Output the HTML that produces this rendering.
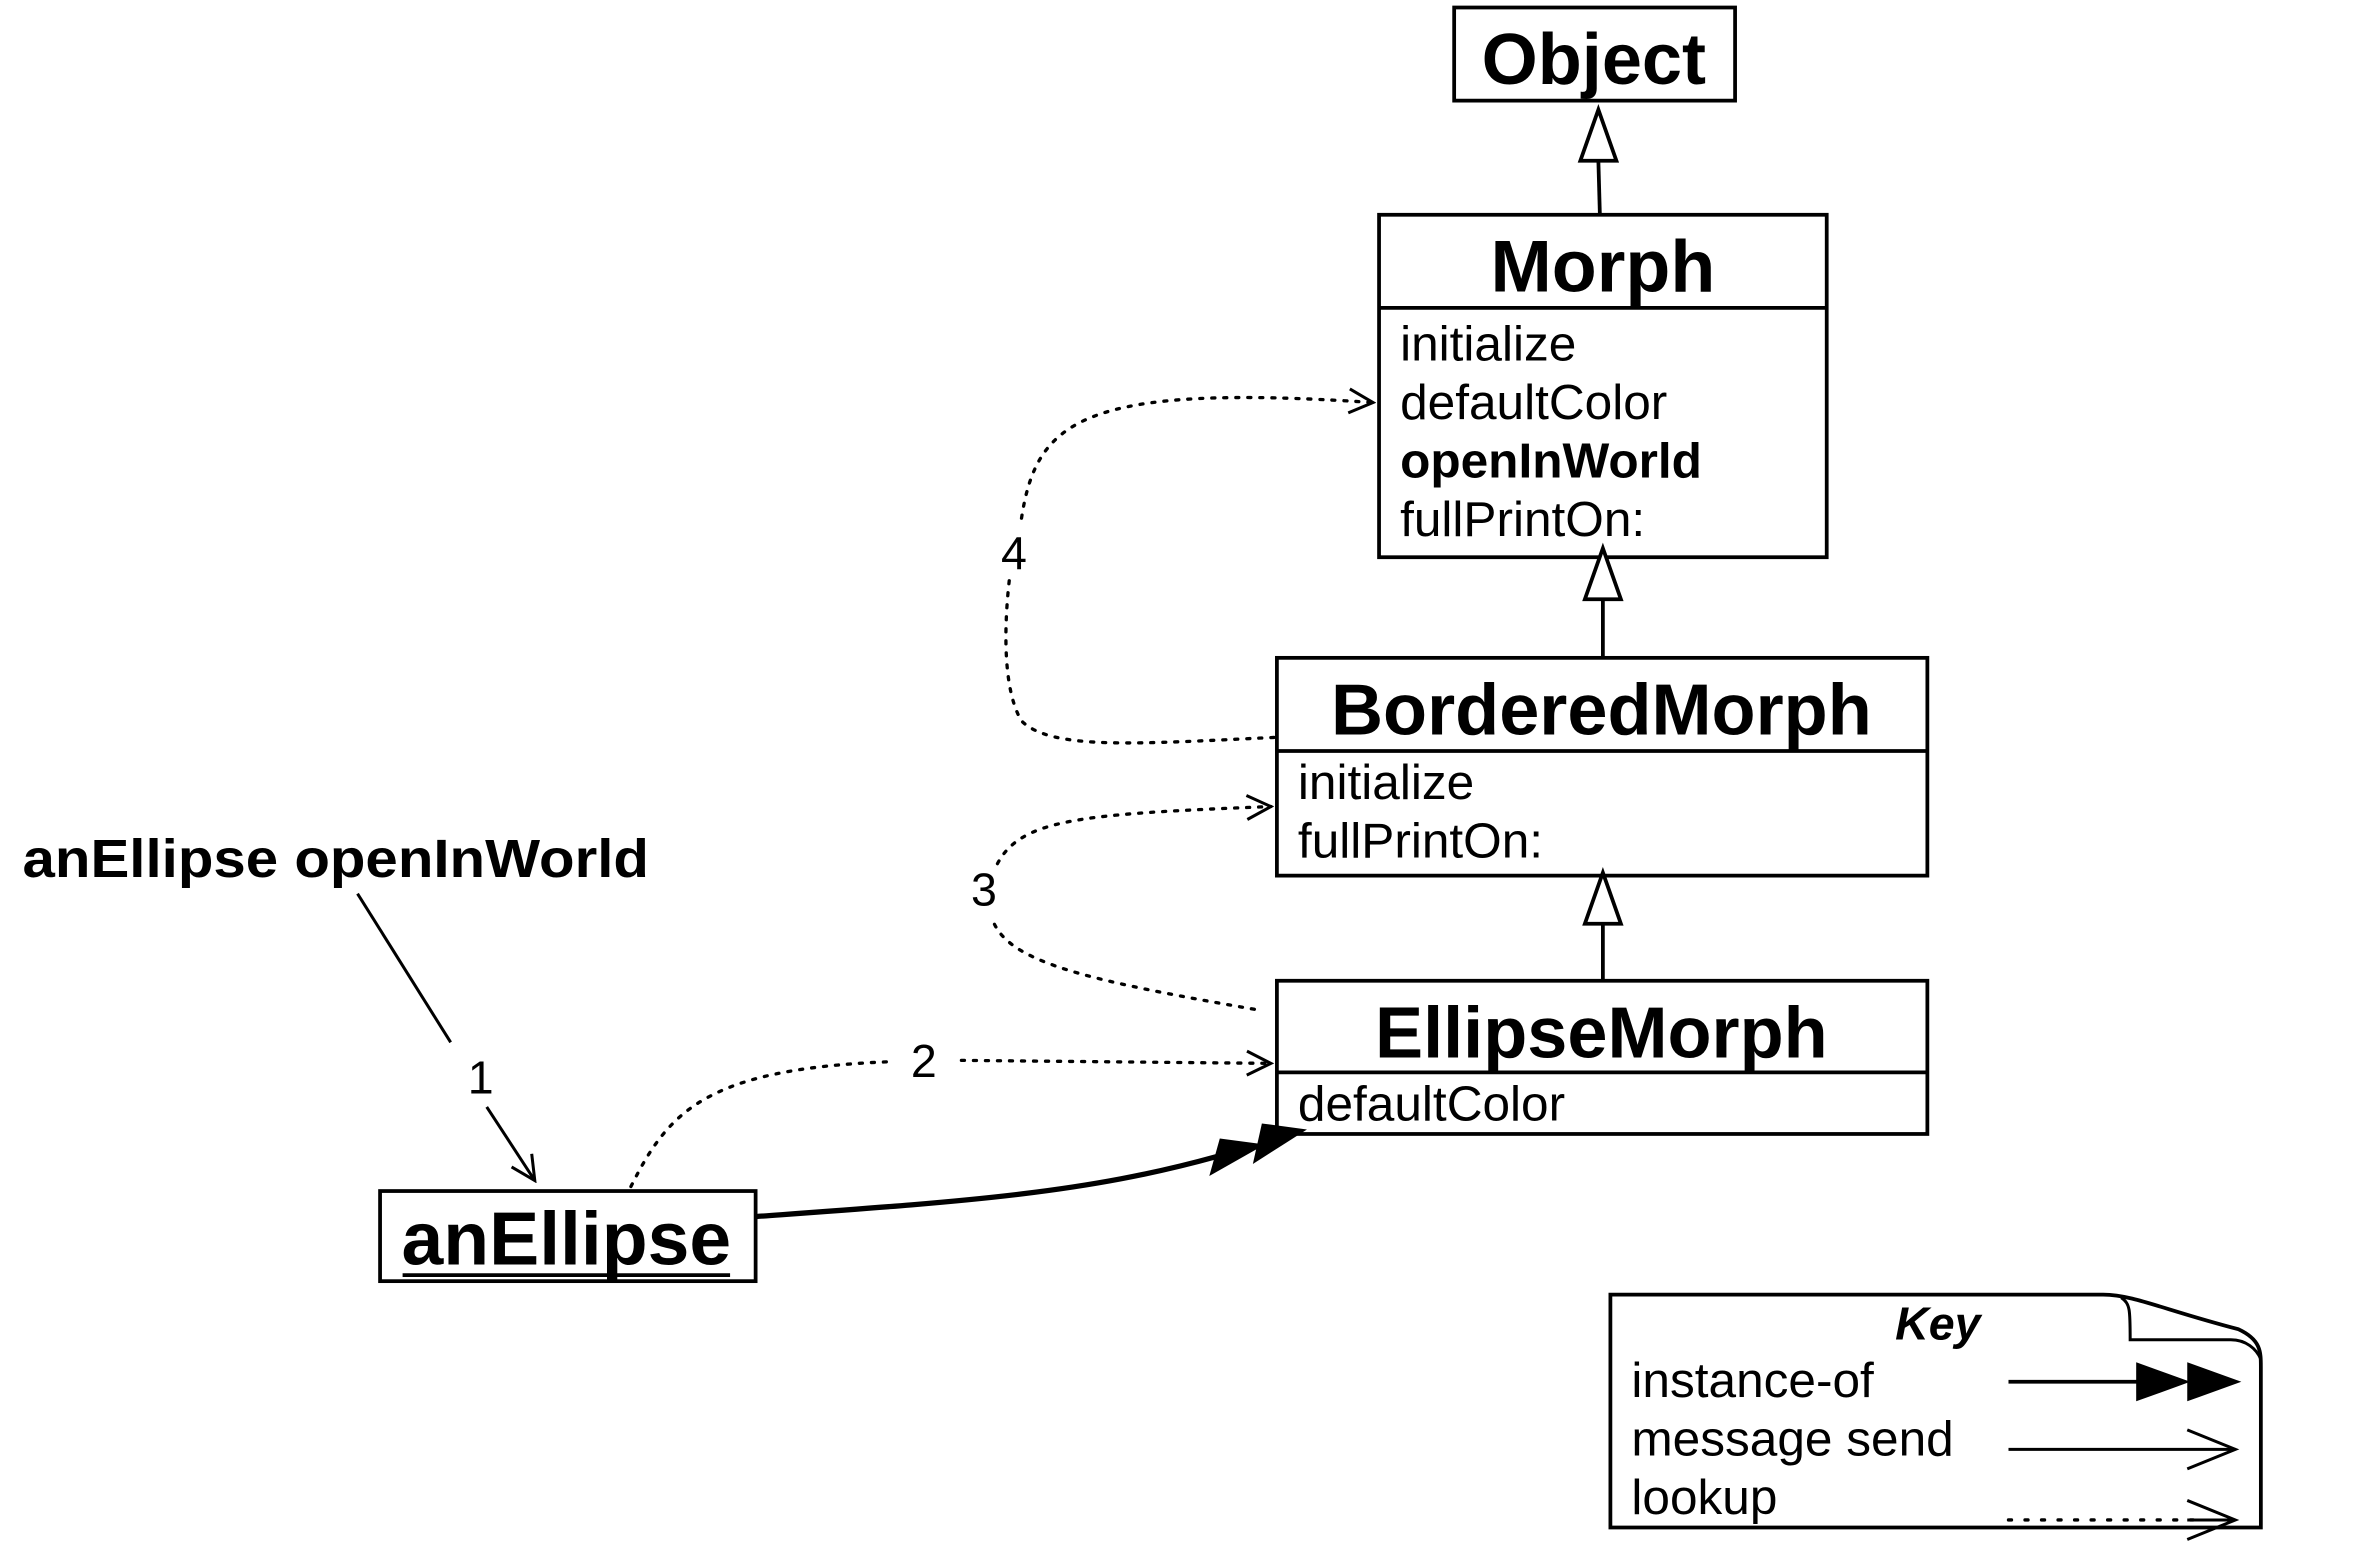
<!DOCTYPE html>
<html><head><meta charset="utf-8"><style>
html,body{margin:0;padding:0;background:#fff;}
svg{display:block;}
text{font-family:"Liberation Sans",Arial,sans-serif;fill:#000;}
</style></head><body>
<svg width="2354" height="1550" viewBox="0 0 1567 1032" preserveAspectRatio="none" xmlns="http://www.w3.org/2000/svg">
<defs>
<marker id="open" viewBox="0 0 20 20" refX="18" refY="10" markerWidth="20" markerHeight="20" markerUnits="userSpaceOnUse" orient="auto">
<path d="M2,2 L18,10 L2,18" fill="none" stroke="#000" stroke-width="2"/>
</marker>
</defs>
<g fill="none" stroke="#000" stroke-width="2.5">
<rect x="968" y="5" width="187" height="62" fill="#fff"/>
<rect x="918" y="143" width="298" height="228"/>
<line x1="918" y1="205" x2="1216" y2="205"/>
<rect x="850" y="438" width="433" height="145"/>
<line x1="850" y1="500" x2="1283" y2="500"/>
<rect x="850" y="653" width="433" height="102"/>
<line x1="850" y1="714" x2="1283" y2="714"/>
<rect x="253" y="793" width="250" height="60"/>
<line x1="1065" y1="143" x2="1064" y2="107"/>
<path d="M1064,73 L1052,107 L1076,107 Z" fill="#fff"/>
<line x1="1067" y1="438" x2="1067" y2="399"/>
<path d="M1067,365 L1055,399 L1079,399 Z" fill="#fff"/>
<line x1="1067" y1="653" x2="1067" y2="615"/>
<path d="M1067,581 L1055,615 L1079,615 Z" fill="#fff"/>
</g>
<g fill="none" stroke="#000" stroke-width="2">
<line x1="238" y1="595" x2="300" y2="694"/>
<line x1="324" y1="737" x2="356" y2="786" marker-end="url(#open)"/>
</g>
<path d="M503,810 C640,800 720,795 810,770" fill="none" stroke="#000" stroke-width="3.5"/>
<path d="M805,783 L842,762 L812,758 Z" fill="#000"/>
<path d="M834,775 L870,752 L840,748 Z" fill="#000"/>
<g fill="none" stroke="#000" stroke-width="2.2" stroke-dasharray="2 6" stroke-linecap="round">
<path d="M420,790 C445,740 470,712 590,707"/>
<path d="M640,706 L846,708" marker-end="url(#open)"/>
<path d="M835,672 C720,652 668,640 660,610"/>
<path d="M664,575 C680,545 720,542 846,537" marker-end="url(#open)"/>
<path d="M848,491 C760,495 700,500 680,480 C668,460 668,420 672,385"/>
<path d="M680,345 C690,280 720,255 914,268" marker-end="url(#open)"/>
</g>
<text x="1061" y="56" font-size="48" font-weight="bold" text-anchor="middle">Object</text>
<text x="1067" y="194" font-size="49" font-weight="bold" text-anchor="middle">Morph</text>
<text x="932" y="240" font-size="33">initialize</text>
<text x="932" y="279" font-size="33">defaultColor</text>
<text x="932" y="318" font-size="33" font-weight="bold">openInWorld</text>
<text x="932" y="357" font-size="33">fullPrintOn:</text>
<text x="1066" y="489" font-size="48" font-weight="bold" text-anchor="middle">BorderedMorph</text>
<text x="864" y="532" font-size="33">initialize</text>
<text x="864" y="571" font-size="33">fullPrintOn:</text>
<text x="1066" y="704" font-size="48" font-weight="bold" text-anchor="middle">EllipseMorph</text>
<text x="864" y="746" font-size="33">defaultColor</text>
<text x="377" y="842" font-size="50" font-weight="bold" text-anchor="middle">anEllipse</text>
<line x1="268" y1="849" x2="486" y2="849" stroke="#000" stroke-width="2.5"/>
<text x="15" y="584" font-size="36" font-weight="bold" textLength="417" lengthAdjust="spacingAndGlyphs">anEllipse openInWorld</text>
<text x="320" y="728" font-size="31" text-anchor="middle">1</text>
<text x="615" y="717" font-size="31" text-anchor="middle">2</text>
<text x="655" y="603" font-size="31" text-anchor="middle">3</text>
<text x="675" y="379" font-size="31" text-anchor="middle">4</text>
<path d="M1072,862 L1400,862 C1420,862 1440,872 1490,885 C1505,892 1505,900 1505,910 L1505,1017 L1072,1017 Z" fill="#fff" stroke="#000" stroke-width="2.5"/>
<path d="M1412,864 C1418,868 1418,872 1418,892 L1485,892 C1495,892 1502,898 1505,905" fill="none" stroke="#000" stroke-width="2"/>
<text x="1290" y="892" font-size="31" font-weight="bold" font-style="italic" text-anchor="middle">Key</text>
<text x="1086" y="930" font-size="33">instance-of</text>
<text x="1086" y="969" font-size="33">message send</text>
<text x="1086" y="1008" font-size="33">lookup</text>
<line x1="1337" y1="920" x2="1430" y2="920" stroke="#000" stroke-width="2.5"/>
<path d="M1422,907 L1458,920 L1422,933 Z" fill="#000"/>
<path d="M1456,907 L1492,920 L1456,933 Z" fill="#000"/>
<line x1="1337" y1="965" x2="1488" y2="965" stroke="#000" stroke-width="2"/>
<path d="M1456,952 L1488,965 L1456,978" fill="none" stroke="#000" stroke-width="2"/>
<line x1="1337" y1="1012" x2="1460" y2="1012" stroke="#000" stroke-width="2.2" stroke-dasharray="2 9" stroke-linecap="round"/>
<line x1="1456" y1="1012" x2="1488" y2="1012" stroke="#000" stroke-width="2"/>
<path d="M1456,999 L1488,1012 L1456,1025" fill="none" stroke="#000" stroke-width="2"/>
</svg>
</body></html>
